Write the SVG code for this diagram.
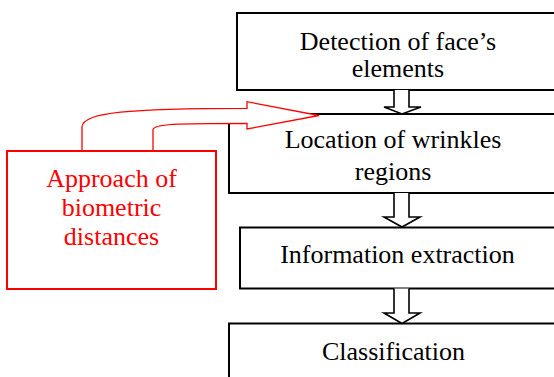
<svg xmlns="http://www.w3.org/2000/svg" width="554" height="377" viewBox="0 0 554 377">
  <style>
    .box { fill: #fff; stroke: #000; stroke-width: 2; }
    .rbox { fill: #fff; stroke: #ff0000; stroke-width: 2; }
    text { font-family: 'Liberation Serif', 'Times New Roman', Times, serif; font-size: 26px; text-anchor: middle; }
    .lbl { fill: #000; }
    .rlbl { fill: #ff0000; }
    .blk { fill: #fff; stroke: #000; stroke-width: 1.6; stroke-linejoin: miter; }
    .rarrow { fill: #fff; stroke: #ff0000; stroke-width: 1.3; }
  </style>
  <rect width="554" height="377" fill="#fff"/>

  <g id="detection">
    <rect class="box" x="237" y="13" width="330" height="77"/>
    <text class="lbl" x="398" y="49.5">Detection of face’s</text>
    <text class="lbl" x="398" y="77">elements</text>
  </g>

  <g id="location">
    <rect class="box" x="229" y="114" width="340" height="79"/>
    <text class="lbl" x="393" y="148">Location of wrinkles</text>
    <text class="lbl" x="393" y="180">regions</text>
  </g>

  <g id="extraction">
    <rect class="box" x="240" y="227.5" width="330" height="61"/>
    <text class="lbl" x="397.5" y="263">Information extraction</text>
  </g>

  <g id="classification">
    <rect class="box" x="229" y="323.5" width="340" height="70"/>
    <text class="lbl" x="393.5" y="360">Classification</text>
  </g>

  <g id="biometric">
    <rect class="rbox" x="7" y="151" width="209" height="138"/>
    <text class="rlbl" x="111.5" y="186.5">Approach of</text>
    <text class="rlbl" x="111.5" y="216">biometric</text>
    <text class="rlbl" x="111.5" y="245">distances</text>
  </g>

  <g id="connectors">
    <!-- hollow block arrows down the pipeline -->
    <path class="blk" d="M394,90 V107 H384 L402,114 L421,107 H409 V90"/>
    <path class="blk" d="M394,193 V217 H384 L402,227 L420,217 H409 V193"/>
    <path class="blk" d="M394,288.5 V313 H384 L402,323.5 L420,313 H409 V288.5"/>
    <!-- curved red block arrow from the side box -->
    <path class="rarrow" d="M82,150 V127 C82,112 130,108.5 247,108.3 V101.7 L319,115.5 L247,129 V123.3 C175,123.3 153,124 153,130 V150"/>
  </g>
</svg>
